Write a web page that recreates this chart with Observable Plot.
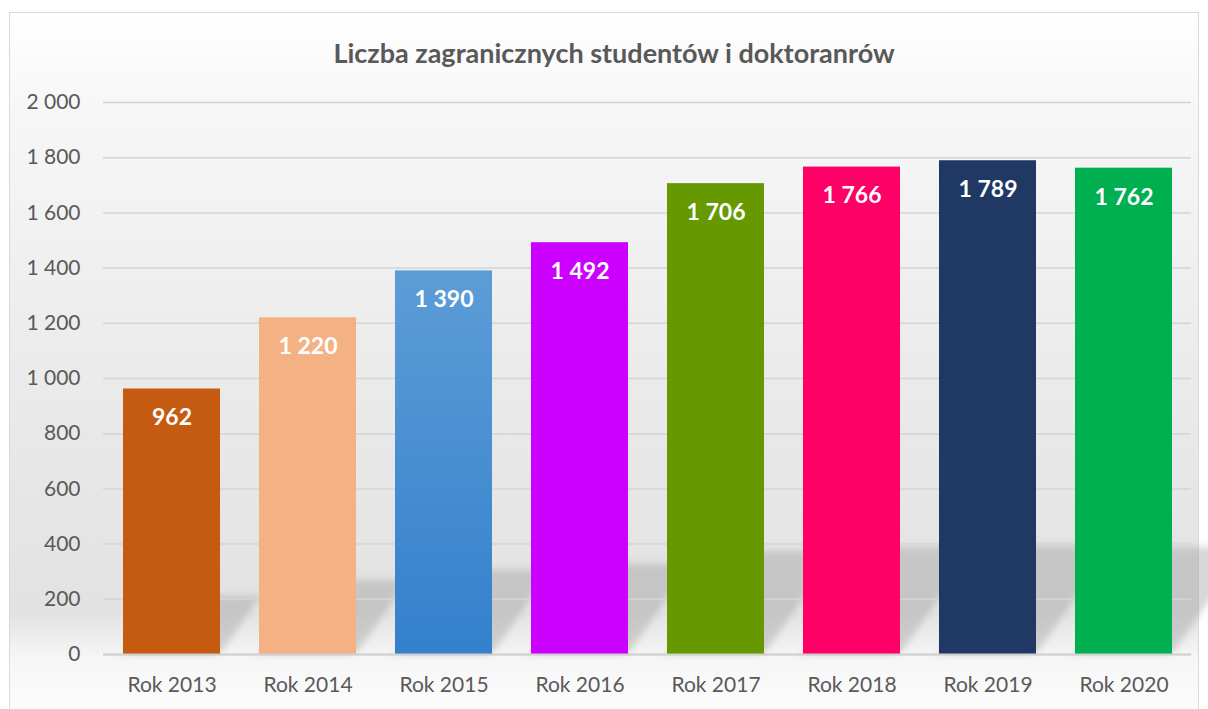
<!DOCTYPE html>
<html><head><meta charset="utf-8">
<script src="https://cdn.jsdelivr.net/npm/d3@7"></script>
<script src="https://cdn.jsdelivr.net/npm/@observablehq/plot@0.6"></script>
<style>
html,body{margin:0;padding:0;background:#fff;width:1208px;height:709px;overflow:hidden;font-family:Lato,"Noto Sans",sans-serif;}
#frame{position:absolute;left:9px;top:12px;width:1190px;height:710px;border:1px solid #d9d9d9;box-sizing:border-box;
 background:linear-gradient(to bottom,#ffffff 0px,#f7f7f7 90px,#ebebeb 350px,#e2e2e2 600px,#f6f6f6 644px,#fcfcfc 700px);}
#title{position:absolute;left:0;width:1228px;top:36px;text-align:center;font-weight:700;font-size:27px;color:#595959;}
#chart{position:absolute;left:0;top:0;}
</style></head><body>
<div id="frame"></div>
<div id="title">Liczba zagranicznych studentów i doktoranrów</div>
<div id="chart"></div>
<script>
const years = ["Rok 2013","Rok 2014","Rok 2015","Rok 2016","Rok 2017","Rok 2018","Rok 2019","Rok 2020"];
const counts = [962, 1220, 1390, 1492, 1706, 1766, 1789, 1762];
const barColors = ["#C55A11","#F4B183","url(#g2015)","#CC00FF","#669900","#FF0066","#203864","#00B050"];
const yTicks = [0,200,400,600,800,1000,1200,1400,1600,1800,2000];

const data = years.map((y,i)=>({year:y, value:counts[i], color:barColors[i]}));
const fmt = d => d3.format(",")(d).replace(/,/g," ");

const plot = Plot.plot({
  width:1208, height:709,
  marginTop:102, marginBottom:55, marginLeft:103, marginRight:17,
  style:{background:"transparent", fontFamily:"Lato, 'Noto Sans', sans-serif", color:"#595959"},
  x:{domain:years, paddingInner:0.287, paddingOuter:0.1435, label:null},
  y:{domain:[0,2000], label:null},
  marks:[
    Plot.barY(data, {x:"year", y: d=>d.value*0.22, fill:"#9a9a9a", fillOpacity:0.4,
      render(index, scales, values, dims, ctx, next){
        const g = next(index, scales, values, dims, ctx);
        const y0 = scales.y(0);
        g.setAttribute("transform", `translate(0,${y0}) skewX(-35) translate(0,${-y0})`);
        g.setAttribute("filter","url(#blur)");
        return g;
      }}),
    Plot.gridY(yTicks, {stroke:"#d4d4d4", strokeOpacity:1, strokeWidth:1.5}),
    Plot.axisY(yTicks, {tickSize:0, tickPadding:23, tickFormat:fmt, fontSize:21, fill:"#595959"}),
    Plot.axisX({tickSize:0, tickPadding:23, fontSize:21, fill:"#595959"}),
    Plot.barY(data, {x:"year", y:"value", fill:"color"}),
    Plot.ruleY([0], {stroke:"#d0d0d0", strokeWidth:2}),
    Plot.text(data, {x:"year", y:"value", text:d=>fmt(d.value), dy:29, fill:"white", fontWeight:"bold", fontSize:23})
  ]
});
const svg = d3.select(plot);
const defs = svg.insert("defs", ":first-child");
const gr = defs.append("linearGradient").attr("id","g2015").attr("x1",0).attr("y1",0).attr("x2",0).attr("y2",1);
gr.append("stop").attr("offset","0%").attr("stop-color","#5C9DD7");
gr.append("stop").attr("offset","100%").attr("stop-color","#3380CC");
defs.append("filter").attr("id","blur").attr("x","-20%").attr("y","-20%").attr("width","140%").attr("height","140%")
  .append("feGaussianBlur").attr("stdDeviation",4);
document.getElementById("chart").appendChild(plot);
</script>
</body></html>
